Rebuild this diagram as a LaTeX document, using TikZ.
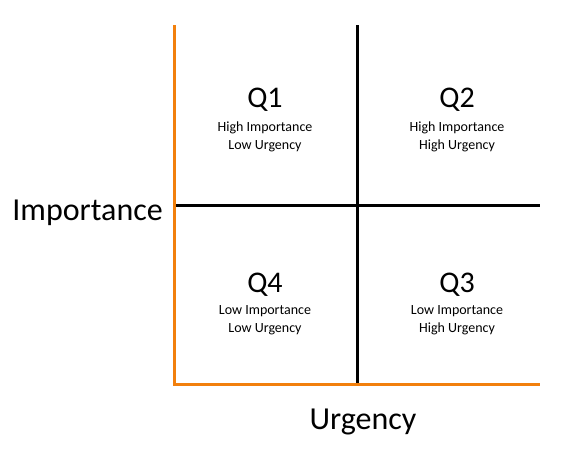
\documentclass[tikz,border=0pt]{standalone}
\usepackage{fontspec}
\setmainfont{Carlito}
\begin{document}
\begin{tikzpicture}[x=1pt,y=-1pt,
  big/.style={font=\fontsize{32}{36}\selectfont},
  q/.style={font=\fontsize{30}{34}\selectfont},
  small/.style={font=\fontsize{14}{18}\selectfont,align=center},
  ax/.style={draw=orange!80!brown,line width=3pt},
  div/.style={draw=black,line width=3pt}]
\useasboundingbox (0,0) rectangle (562,458);
\coordinate (tl) at (174,25); \coordinate (o) at (174,384); \coordinate (br) at (540,384);
\coordinate (vt) at (357,25); \coordinate (vb) at (357,384);
\coordinate (hl) at (174,205); \coordinate (hr) at (540,205);
\draw[div] (vt) -- (vb);
\draw[div] (hl) -- (hr);
\draw[ax] (tl) -- (o) -- (br);
\node[q] (q1) at (265,100) {Q1};
\node[small] (t1) at (265,137) {High Importance\\Low Urgency};
\node[q] (q2) at (457,100) {Q2};
\node[small] (t2) at (457,137) {High Importance\\High Urgency};
\node[q] (q4) at (265,285) {Q4};
\node[small] (t4) at (265,320) {Low Importance\\Low Urgency};
\node[q] (q3) at (457,285) {Q3};
\node[small] (t3) at (457,320) {Low Importance\\High Urgency};
\node[big,anchor=east,inner sep=0] (imp) at (163,213) {Importance};
\node[big] (urg) at (363,422) {Urgency};
\end{tikzpicture}
\end{document}
